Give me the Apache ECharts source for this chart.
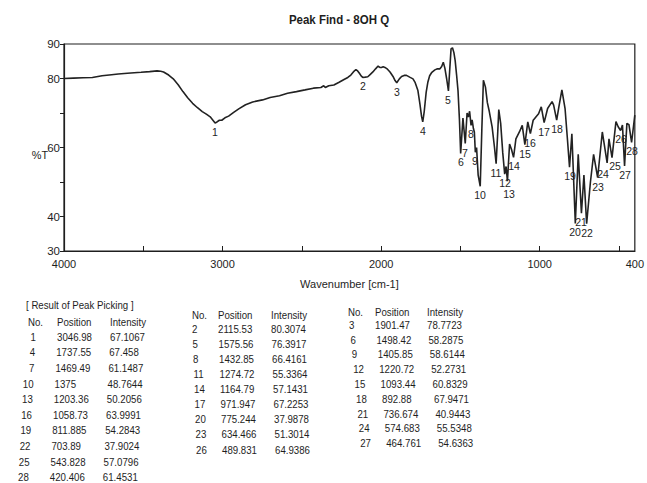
<!DOCTYPE html>
<html>
<head>
<meta charset="utf-8">
<script src="https://cdn.jsdelivr.net/npm/echarts@6/dist/echarts.min.js"></script>
<style>
html,body{margin:0;padding:0;background:#fff;}
#c{width:647px;height:483px;}
</style>
</head>
<body>
<div id="c"></div>
<script>
// FT-IR transmittance spectrum, wavenumber in cm-1
const wavenumber = [
  4000, 3940, 3880, 3821, 3760, 3700, 3658, 3600, 3514, 3460, 3413, 3390, 3372, 3340, 3311,
  3280, 3250, 3220, 3189, 3160, 3128, 3100, 3078, 3062, 3046.98, 3035, 3020, 3005, 2985, 2962,
  2930, 2898, 2855, 2810, 2748, 2700, 2641, 2590, 2534, 2480, 2427, 2380, 2362, 2352, 2330,
  2298, 2265, 2234, 2210, 2191, 2175, 2159, 2148, 2137, 2125, 2115.53, 2100, 2084, 2068, 2052,
  2035, 2019, 2008, 1998, 1987, 1976, 1960, 1944, 1925, 1912, 1901.47, 1885, 1871, 1855, 1840,
  1820, 1799, 1785, 1768, 1755, 1745, 1737.55, 1728, 1716, 1705, 1694, 1680, 1661, 1645, 1629,
  1618, 1608, 1598, 1587, 1575.56, 1568, 1559, 1550, 1541, 1533, 1524, 1515, 1506, 1498.42, 1484,
  1469.49, 1458, 1450, 1442, 1432.85, 1426, 1418, 1412, 1405.85, 1398, 1388, 1375, 1365, 1355, 1342,
  1330, 1318, 1300, 1285, 1274.72, 1265, 1258, 1246, 1233, 1220.72, 1212, 1203.36, 1190, 1178, 1164.79,
  1150, 1128, 1110, 1093.44, 1075, 1058.73, 1041, 1007, 990, 971.947, 950, 922, 912, 892.88, 879,
  860, 840, 825, 811.885, 797, 775.244, 757, 736.674, 721, 703.89, 680, 660, 634.466, 605, 574.683,
  563, 543.828, 519, 505, 489.831, 478, 464.761, 450, 437, 420.406, 400
];
const transmittance = [
  80.0, 80.1, 80.2, 80.3, 80.8, 81.1, 81.3, 81.5, 81.8, 82.0, 82.2, 82.1, 81.9, 81.0, 79.9,
  78.2, 76.2, 74.4, 72.8, 71.6, 70.4, 69.6, 68.9, 68.0, 67.1067, 67.4, 67.9, 67.9, 68.6, 69.1,
  70.2, 71.2, 72.4, 73.2, 73.8, 74.5, 75.0, 75.7, 76.2, 76.7, 77.2, 77.4, 77.9, 77.4, 77.9,
  78.1, 78.9, 79.7, 80.3, 81.0, 81.9, 82.6, 82.2, 81.5, 80.7, 80.3074, 80.4, 80.5, 81.2, 81.9,
  82.8, 83.6, 83.2, 83.2, 83.4, 83.2, 82.7, 81.9, 80.6, 79.4, 78.7723, 79.9, 80.6, 80.9, 80.9,
  80.4, 79.9, 78.8, 76.5, 72.5, 69.0, 67.458, 70.5, 76.0, 79.0, 80.8, 81.8, 82.5, 82.8, 82.8,
  83.5, 84.7, 83.0, 80.0, 76.3917, 82.0, 88.6, 88.9, 87.5, 85.2, 81.0, 76.4, 68.0, 58.2875, 68.5,
  61.1487, 70.0, 68.8, 70.5, 66.4161, 68.0, 65.5, 64.5, 58.6144, 60.0, 52.0, 48.7644, 65.0, 79.5, 77.5,
  73.0, 70.5, 66.0, 60.0, 55.3364, 64.0, 71.0, 67.0, 58.5, 52.2731, 54.5, 50.2056, 61.0, 59.5, 57.1431,
  62.5, 64.5, 66.4, 60.8329, 67.4, 63.9991, 67.9, 69.8, 71.8, 67.2253, 71.3, 73.3, 72.3, 67.9471, 71.8,
  76.7, 71.3, 62.4, 54.2843, 64.0, 37.9878, 58.0, 40.9443, 52.0, 37.9024, 50.0, 58.0, 51.3014, 64.5, 55.5348,
  62.5, 57.0796, 67.5, 66.0, 64.9386, 66.5, 54.6363, 67.0, 66.6, 61.4531, 69.4
];

// Peak picking results
const peakNo = [1, 2, 3, 4, 5, 6, 7, 8, 9, 10, 11, 12, 13, 14, 15, 16, 17, 18, 19, 20, 21, 22, 23, 24, 25, 26, 27, 28];
const peakPos = [3046.98, 2115.53, 1901.47, 1737.55, 1575.56, 1498.42, 1469.49, 1432.85, 1405.85, 1375,
  1274.72, 1220.72, 1203.36, 1164.79, 1093.44, 1058.73, 971.947, 892.88, 811.885, 775.244,
  736.674, 703.89, 634.466, 574.683, 543.828, 489.831, 464.761, 420.406];
const peakInt = [67.1067, 80.3074, 78.7723, 67.458, 76.3917, 58.2875, 61.1487, 66.4161, 58.6144, 48.7644,
  55.3364, 52.2731, 50.2056, 57.1431, 60.8329, 63.9991, 67.2253, 67.9471, 54.2843, 37.9878,
  40.9443, 37.9024, 51.3014, 55.5348, 57.0796, 64.9386, 54.6363, 61.4531];

// Axis ticks and labels
const xTickValues = [4000, 3500, 3000, 2500, 2000, 1500, 1000, 500];
const xLabelValues = [4000, 3000, 2000, 1000, 400];
const yTickValues = [30, 40, 50, 60, 70, 80, 90];
const yLabelValues = [30, 40, 60, 80, 90];

const FONT = '"Liberation Sans", Arial, sans-serif';
const INK = '#1e1e1e';

const chart = echarts.init(document.getElementById('c'), null, {renderer: 'svg', width: 647, height: 483});

const spectrum = wavenumber.map((w, i) => [w, transmittance[i]]);
const peakPoints = peakPos.map((p, i) => [p, peakInt[i]]);

// a few crowded peak numbers are nudged apart
const labelNudge = {13: [2, 4], 24: [-4, 2], 25: [3, -1]};

// Peak table: three interleaved column groups (No. mod 3)
const graphics = [];
function addText(x, y, s, opts) {
  opts = opts || {};
  graphics.push({
    type: 'text', x: x, y: y, silent: true,
    scaleX: opts.sx || 0.88,
    style: {
      text: s,
      font: (opts.weight || 'normal') + ' ' + (opts.size || 11) + 'px ' + FONT,
      fill: INK,
      align: opts.align || 'left',
      verticalAlign: 'middle'
    }
  });
}

addText(339, 20, 'Peak Find - 8OH Q', {weight: 'bold', size: 12.5, align: 'center', sx: 0.92});
addText(40, 155, '%T', {size: 11.5, align: 'center', sx: 0.95});
addText(26, 305, '[ Result of Peak Picking ]');

const tableCols = [
  {noX: 36, noAlign: 'right', headX: 28, posX: 57, intX: 110, head: 322, row0: 337, dy: 15.6, skew: -0.8},
  {noX: 192, noAlign: 'left', headX: 192, posX: 218, intX: 271, head: 315, row0: 329, dy: 15.1, skew: 0.5},
  {noX: 349, noAlign: 'left', headX: 348, posX: 375, intX: 427, head: 312, row0: 325, dy: 14.8, skew: 1.4}
];
tableCols.forEach((col, g) => {
  addText(col.headX, col.head, 'No.');
  addText(col.posX, col.head, 'Position');
  addText(col.intX, col.head, 'Intensity');
  let r = 0;
  peakNo.forEach((n, i) => {
    if (i % 3 !== g) return;
    const y = col.row0 + r * col.dy;
    const dx = r * col.skew;
    addText(col.noX + dx, y, String(n), {align: col.noAlign});
    addText(col.posX + dx, y, String(peakPos[i]));
    addText(col.intX + dx, y, String(peakInt[i]));
    r++;
  });
});

chart.setOption({
  animation: false,
  backgroundColor: '#fff',
  grid: {left: 64, right: 12, top: 44, bottom: 232, show: true, borderColor: INK, borderWidth: 1.2, backgroundColor: 'transparent'},
  xAxis: {
    type: 'value', min: 400, max: 4000, inverse: true,
    name: 'Wavenumber [cm-1]', nameLocation: 'middle', nameGap: 27,
    nameTextStyle: {fontFamily: FONT, fontSize: 11, color: INK},
    axisLine: {show: true, lineStyle: {color: INK, width: 1.2}},
    axisTick: {show: true, inside: true, length: 5, customValues: xTickValues, lineStyle: {color: INK}},
    axisLabel: {customValues: xLabelValues, formatter: v => String(v), fontFamily: FONT, fontSize: 11, color: INK, margin: 7},
    splitLine: {show: false}
  },
  yAxis: {
    type: 'value', min: 30, max: 90, interval: 10,
    axisLine: {show: true, lineStyle: {color: INK, width: 1.2}},
    axisTick: {show: true, inside: false, length: 4, customValues: yTickValues, lineStyle: {color: INK}},
    axisLabel: {customValues: yLabelValues, formatter: v => String(v), fontFamily: FONT, fontSize: 11.5, color: INK, margin: 4},
    splitLine: {show: false}
  },
  series: [
    {
      type: 'line', data: spectrum, showSymbol: false, symbol: 'none',
      lineStyle: {color: '#222', width: 1.6}, z: 3
    },
    {
      // peak numbers written just under each picked minimum
      type: 'custom', data: peakPoints, z: 4, silent: true, clip: false,
      renderItem: (params, api) => {
        const pt = api.coord([api.value(0), api.value(1)]);
        const n = peakNo[params.dataIndex];
        const nd = labelNudge[n] || [0, 0];
        return {
          type: 'text', x: Math.round(pt[0] + nd[0]), y: Math.round(pt[1] + 3 + nd[1]),
          style: {text: String(n), font: '10.5px ' + FONT, fill: '#1e1e1e', opacity: 1, align: 'center', verticalAlign: 'top'}
        };
      }
    }
  ],
  graphic: graphics
});
</script>
</body>
</html>
